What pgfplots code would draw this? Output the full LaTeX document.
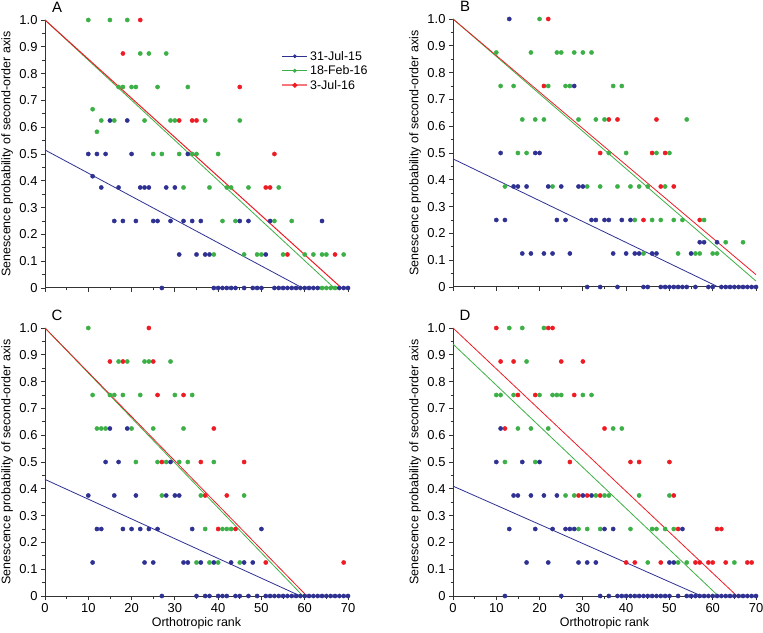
\documentclass[border=0pt]{standalone}
\usepackage{fontspec}
\setmainfont{Liberation Sans}
\usepackage{pgfplots}
\pgfplotsset{compat=1.18}

\definecolor{cblue}{RGB}{46,49,146}
\definecolor{cgreen}{RGB}{60,176,70}
\definecolor{cred}{RGB}{237,28,36}

\pgfplotsset{
  panel/.style={
    scale only axis, width=303bp, height=268bp,
    xmin=0, xmax=70, ymin=0, ymax=1,
    axis lines=left, axis line style={-, line width=1bp, black!80},
    xtick={0,10,20,30,40,50,60,70}, minor xtick={5,15,25,35,45,55,65},
    ytick={0,0.1,0.2,0.3,0.4,0.5,0.6,0.7,0.8,0.9,1},
    minor ytick={0.05,0.15,0.25,0.35,0.45,0.55,0.65,0.75,0.85,0.95},
    yticklabels={0,0.1,0.2,0.3,0.4,0.5,0.6,0.7,0.8,0.9,1.0},
    tick align=outside, major tick length=4bp, minor tick length=2.5bp,
    tick style={black!80, line width=0.8bp},
    tick label style={font=\fontsize{13}{15}\selectfont},
    /pgf/number format/assume math mode=true,
    ylabel={Senescence probability of second-order axis},
    ylabel style={at={(axis description cs:-0.125,0.5)}, anchor=center,
      font=\fontsize{12.5}{15}\selectfont},
    clip=false,
  },
  top/.style={xticklabels={}},
  bottom/.style={xlabel={Orthotropic rank},
    xlabel style={at={(axis description cs:0.5,-0.1)}, anchor=center,
      font=\fontsize{12.5}{15}\selectfont}},
  pb/.style={only marks, mark=*, mark size=2.1bp, color=cblue, forget plot},
  pg/.style={only marks, mark=*, mark size=2.1bp, color=cgreen, forget plot},
  pr/.style={only marks, mark=*, mark size=2.1bp, color=cred, forget plot},
  fit/.style={no marks, line width=0.8bp, forget plot},
}

\newcommand{\panelletter}[1]{\node[font=\fontsize{15}{17}\selectfont] at (rel axis cs:0.04,1.048) {#1};}

\begin{document}
\begin{tikzpicture}
\useasboundingbox (0,0) rectangle (763bp,633bp);

% ---------- A ----------
\begin{axis}[panel, top, at={(45bp,345bp)}, anchor=south west,
  legend style={at={(rel axis cs:0.77,0.9)}, anchor=north west, draw=none, fill=none,
    font=\fontsize{12.5}{14}\selectfont, row sep=0bp},
  legend cell align=left,
  legend image code/.code={\draw[mark repeat=2,mark phase=2,#1] plot coordinates {(0bp,0bp) (12.5bp,0bp) (25bp,0bp)};}]
\addplot[fit, cblue] coordinates {(0,0.515) (59.5,0)};
\addplot[fit, cgreen] coordinates {(0,1) (66.8,0)};
\addplot[fit, cred, line width=1bp] coordinates {(0,1) (68.5,0)};
\addplot[pr] coordinates {
  (22,1) (18,0.875) (45,0.75) (31,0.625) (34,0.625) (35,0.625) (53,0.5)
  (51,0.375) (52,0.375) (56,0.125) (67,0.125)};
\addplot[pg] coordinates {
  (10,1) (15,1) (19,1) (22,0.875) (24,0.875) (28,0.875)
  (17,0.75) (18,0.75) (20,0.75) (21,0.75) (26,0.75) (33,0.75) (11,0.667)
  (13,0.625) (16,0.625) (23,0.625) (29,0.625) (30,0.625) (37,0.625) (45,0.625) (12,0.583)
  (25,0.5) (27,0.5) (31,0.5) (34,0.5) (35,0.5) (40,0.5)
  (32,0.375) (38,0.375) (42,0.375) (43,0.375) (47,0.375) (54,0.375)
  (41,0.25) (44,0.25) (53,0.25) (57,0.25)
  (39,0.125) (46,0.125) (49,0.125) (50,0.125) (55,0.125) (60,0.125) (62,0.125) (64,0.125) (65,0.125) (69,0.125)
  (64,0) (65,0) (66,0) (67,0)};
\addplot[pb] coordinates {
  (15,0.625) (19,0.625) (10,0.5) (12,0.5) (14,0.5) (20,0.5) (33,0.5) (11,0.417)
  (13,0.375) (17,0.375) (22,0.375) (23,0.375) (24,0.375) (28,0.375) (30,0.375)
  (16,0.25) (18,0.25) (21,0.25) (25,0.25) (26,0.25) (29,0.25) (32,0.25) (34,0.25) (36,0.25)
  (45,0.25) (47,0.25) (52,0.25) (64,0.25)
  (31,0.125) (35,0.125) (37,0.125) (38,0.125) (51,0.125)
  (27,0) (39,0) (40,0) (41,0) (42,0) (43,0) (44,0) (46,0) (48,0) (49,0) (50,0)
  (53,0) (54,0) (55,0) (56,0) (57,0) (58,0) (59,0) (60,0) (61,0) (62,0) (63,0)
  (68,0) (69,0) (70,0)};
\addlegendimage{cblue, line width=0.6bp, mark=*, mark size=1.6bp}
\addlegendentry{31-Jul-15}
\addlegendimage{cgreen, line width=0.8bp, mark=*, mark size=1.6bp}
\addlegendentry{18-Feb-16}
\addlegendimage{cred!60, line width=1.6bp, mark=*, mark size=1.6bp, mark options={cred}}
\addlegendentry{3-Jul-16}
\panelletter{A}
\end{axis}

% ---------- B ----------
\begin{axis}[panel, top, at={(453bp,346bp)}, anchor=south west]
\addplot[fit, cblue] coordinates {(0,0.478) (61.3,0)};
\addplot[fit, cgreen] coordinates {(0,1) (70,0.022)};
\addplot[fit, cred] coordinates {(0,1) (70,0.046)};
\addplot[pr] coordinates {
  (22,1) (21,0.75) (36,0.625) (38,0.625) (47,0.625) (34,0.5) (46,0.5) (49,0.5)
  (48,0.375) (51,0.375) (44,0.25) (57,0.25)};
\addplot[pg] coordinates {
  (20,1) (10,0.875) (18,0.875) (24,0.875) (25,0.875) (28,0.875) (30,0.875) (32,0.875)
  (11,0.75) (14,0.75) (22,0.75) (26,0.75) (27,0.75) (37,0.75) (39,0.75)
  (16,0.625) (19,0.625) (21,0.625) (29,0.625) (33,0.625) (35,0.625) (54,0.625)
  (15,0.5) (17,0.5) (36,0.5) (40,0.5) (47,0.5) (50,0.5)
  (12,0.375) (23,0.375) (31,0.375) (34,0.375) (38,0.375) (41,0.375) (43,0.375) (45,0.375) (49,0.375)
  (42,0.25) (46,0.25) (48,0.25) (51,0.25) (53,0.25) (58,0.25) (63,0.167) (67,0.167)
  (44,0.125) (52,0.125) (56,0.125) (57,0.125) (60,0.125) (61,0.125)};
\addplot[pb] coordinates {
  (13,1) (28,0.75) (11,0.5) (19,0.5) (20,0.5)
  (14,0.375) (15,0.375) (17,0.375) (22,0.375) (25,0.375) (29,0.375) (30,0.375)
  (10,0.25) (12,0.25) (24,0.25) (26,0.25) (32,0.25) (33,0.25) (35,0.25) (36,0.25) (39,0.25) (41,0.25)
  (57,0.167) (58,0.167) (61,0.167)
  (16,0.125) (18,0.125) (21,0.125) (23,0.125) (27,0.125) (37,0.125) (40,0.125) (42,0.125)
  (43,0.125) (46,0.125) (47,0.125) (55,0.125)
  (31,0) (34,0) (38,0) (44,0) (45,0) (48,0) (49,0) (50,0) (51,0) (52,0) (53,0) (54,0)
  (56,0) (59,0) (60,0) (62,0) (63,0) (64,0) (65,0) (66,0) (67,0) (68,0) (69,0) (70,0)};
\panelletter{B}
\end{axis}

% ---------- C ----------
\begin{axis}[panel, bottom, at={(45bp,37bp)}, anchor=south west]
\addplot[fit, cblue] coordinates {(0,0.435) (59,0)};
\addplot[fit, cgreen] coordinates {(0,1) (59.6,0)};
\addplot[fit, cred] coordinates {(0,1) (60.5,0)};
\addplot[pr] coordinates {
  (24,1) (15,0.875) (18,0.875) (25,0.875) (26,0.75) (32,0.75) (39,0.625)
  (27,0.5) (36,0.5) (46,0.5) (37,0.375) (42,0.375) (40,0.25) (44,0.25) (51,0.125) (69,0.125)};
\addplot[pg] coordinates {
  (10,1) (17,0.875) (19,0.875) (23,0.875) (24,0.875) (29,0.875)
  (11,0.75) (15,0.75) (16,0.75) (18,0.75) (22,0.75) (30,0.75) (34,0.75)
  (12,0.625) (13,0.625) (14,0.625) (20,0.625) (25,0.625) (32,0.625)
  (21,0.5) (26,0.5) (28,0.5) (31,0.5) (33,0.5) (39,0.5)
  (27,0.375) (36,0.375) (46,0.375) (37,0.25) (41,0.25) (42,0.25) (43,0.25)
  (35,0.125) (38,0.125) (40,0.125) (45,0.125)};
\addplot[pb] coordinates {
  (15,0.625) (19,0.625) (14,0.5) (17,0.5) (29,0.5)
  (10,0.375) (16,0.375) (21,0.375) (28,0.375) (30,0.375) (31,0.375)
  (12,0.25) (13,0.25) (18,0.25) (20,0.25) (22,0.25) (24,0.25) (26,0.25) (34,0.25) (50,0.25)
  (11,0.125) (23,0.125) (25,0.125) (32,0.125) (33,0.125) (36,0.125) (39,0.125) (43,0.125)
  (46,0.125) (48,0.125)
  (27,0) (35,0) (37,0) (38,0) (40,0) (41,0) (42,0) (44,0) (45,0) (47,0) (49,0)
  (51,0) (52,0) (53,0) (54,0) (55,0) (56,0) (57,0) (58,0) (59,0) (60,0)
  (61,0) (62,0) (63,0) (64,0) (65,0) (66,0) (67,0) (68,0) (69,0) (70,0)};
\panelletter{C}
\end{axis}

% ---------- D ----------
\begin{axis}[panel, bottom, at={(453bp,37bp)}, anchor=south west]
\addplot[fit, cblue] coordinates {(0,0.41) (57.4,0)};
\addplot[fit, cgreen] coordinates {(0,0.94) (61.3,0)};
\addplot[fit, cred] coordinates {(0,1) (65.6,0)};
\addplot[pr] coordinates {
  (10,1) (22,1) (23,1) (11,0.875) (14,0.875) (25,0.875) (30,0.875)
  (15,0.75) (19,0.75) (28,0.75) (12,0.625) (35,0.625)
  (27,0.5) (41,0.5) (43,0.5) (50,0.5) (29,0.375) (31,0.375) (34,0.375) (51,0.375)
  (52,0.25) (61,0.25) (62,0.25)
  (40,0.125) (42,0.125) (48,0.125) (56,0.125) (57,0.125) (59,0.125) (60,0.125) (63,0.125)
  (68,0.125) (69,0.125)};
\addplot[pg] coordinates {
  (13,1) (16,1) (21,1) (17,0.875)
  (10,0.75) (11,0.75) (14,0.75) (20,0.75) (23,0.75) (24,0.75) (25,0.75) (30,0.75) (32,0.75)
  (15,0.625) (18,0.625) (22,0.625) (37,0.625) (39,0.625) (12,0.5) (19,0.5)
  (26,0.375) (28,0.375) (33,0.375) (35,0.375) (36,0.375) (43,0.375) (50,0.375)
  (29,0.25) (31,0.25) (34,0.25) (41,0.25) (46,0.25) (47,0.25) (49,0.25) (51,0.25)
  (45,0.125) (52,0.125) (54,0.125) (65,0.125)};
\addplot[pb] coordinates {
  (11,0.625) (10,0.5) (16,0.5) (20,0.5)
  (14,0.375) (15,0.375) (18,0.375) (21,0.375) (24,0.375) (30,0.375) (32,0.375)
  (13,0.25) (19,0.25) (23,0.25) (26,0.25) (27,0.25) (28,0.25) (35,0.25) (37,0.25) (53,0.25)
  (17,0.125) (22,0.125) (29,0.125) (31,0.125) (33,0.125) (50,0.125) (51,0.125)
  (12,0) (25,0) (34,0) (36,0) (38,0) (39,0) (40,0) (41,0) (42,0) (43,0) (44,0) (45,0)
  (46,0) (47,0) (48,0) (49,0) (50,0) (52,0) (54,0) (55,0) (56,0) (57,0) (58,0) (59,0)
  (60,0) (61,0) (62,0) (63,0) (64,0) (65,0) (66,0) (67,0) (68,0) (69,0) (70,0)};
\panelletter{D}
\end{axis}
\end{tikzpicture}
\end{document}
